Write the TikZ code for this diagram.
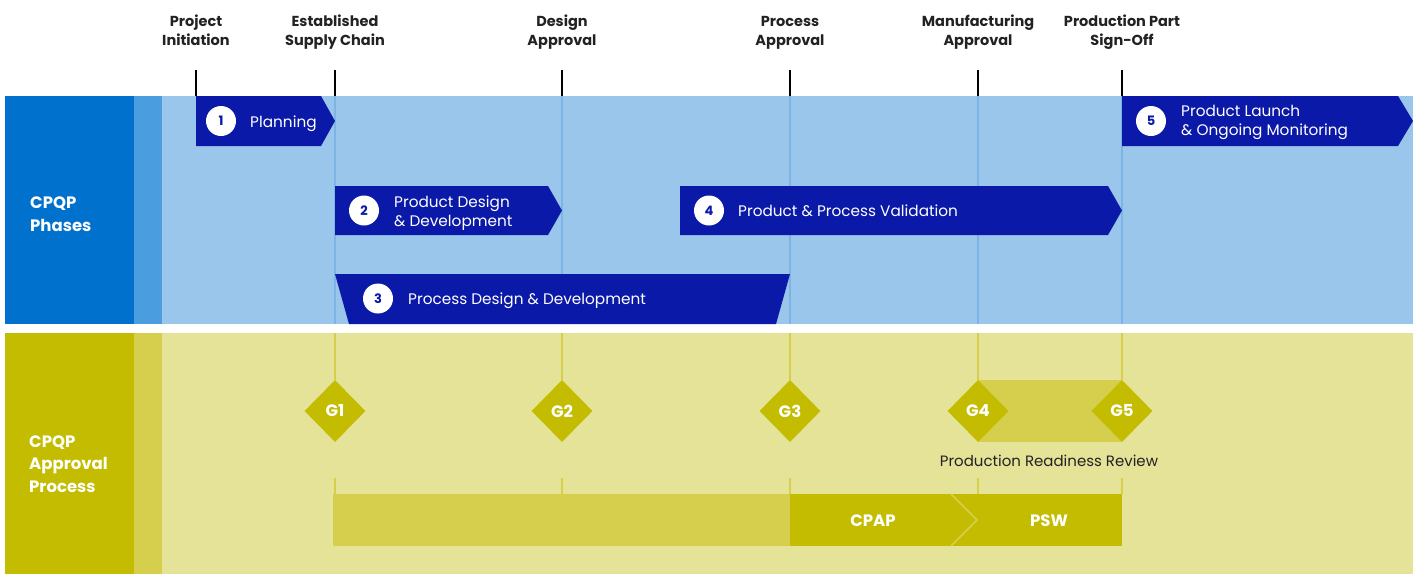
\documentclass[tikz,border=0pt]{standalone}
\usepackage{fontspec}
\setmainfont{Poppins}
\usetikzlibrary{shapes.geometric}
\definecolor{bDark}{HTML}{0072CE}
\definecolor{bMid}{HTML}{4A9EDF}
\definecolor{bLight}{HTML}{99C6EA}
\definecolor{bLine}{HTML}{7DB4E6}
\definecolor{navy}{HTML}{0A19A8}
\definecolor{yDark}{HTML}{C3BC00}
\definecolor{yMid}{HTML}{D5CF4D}
\definecolor{yLight}{HTML}{E5E398}
\definecolor{ink}{HTML}{222222}
\begin{document}
\begin{tikzpicture}[x=1pt,y=-1pt,
  head/.style={align=center,text=ink,font=\fontsize{14.5}{19}\selectfont\bfseries,inner sep=0},
  tick/.style={line width=1.6pt,draw=black},
  vline/.style={line width=2.5pt,draw=bLine},
  gline/.style={line width=2.5pt,draw=yMid},
  phase/.style={fill=navy},
  numc/.style={circle,fill=white,minimum size=30,inner sep=0,text=navy,font=\fontsize{13}{13}\selectfont\bfseries},
  ptext/.style={anchor=west,align=left,text=white,font=\fontsize{15.3}{19}\selectfont,inner sep=0},
  side/.style={anchor=west,align=left,text=white,font=\fontsize{16.5}{22.5}\selectfont\bfseries,inner sep=0},
  gate/.style={diamond,aspect=1,fill=yDark,minimum width=61,minimum height=62,inner sep=0,text=white,font=\fontsize{16.5}{16.5}\selectfont\bfseries},
  bartext/.style={text=white,font=\fontsize{16.5}{16.5}\selectfont\bfseries,inner sep=0}]
\useasboundingbox (0,0) rectangle (1416,574);
% bands
\fill[bDark] (5,96) rectangle (134,324);
\fill[bMid] (134,96) rectangle (162,324);
\fill[bLight] (162,96) rectangle (1413,324);
\fill[yDark] (5,333) rectangle (134,574);
\fill[yMid] (134,333) rectangle (162,574);
\fill[yLight] (162,333) rectangle (1413,574);
% side labels
\node[side] (sphase) at (30,215.7) {\strut CPQP\\\strut Phases};
\node[side] (sappr) at (29,465.3) {\strut CPQP\\\strut Approval\\\strut Process};
% headers
\node[head] (h1) at (196,32.2) {\strut Project\\\strut Initiation};
\node[head] (h2) at (335,32.2) {\strut Established\\\strut Supply Chain};
\node[head] (h3) at (562,32.2) {\strut Design\\\strut Approval};
\node[head] (h4) at (790,32.2) {\strut Process\\\strut Approval};
\node[head] (h5) at (978,32.2) {\strut Manufacturing\\\strut Approval};
\node[head] (h6) at (1122,32.2) {\strut Production Part\\\strut Sign-Off};
\foreach \x/\n in {196/a,335/b,562/c,790/d,978/e,1122/f}{
  \coordinate (t\n) at (\x,70);
  \coordinate (u\n) at (\x,96);
  \draw[tick] (t\n) -- (u\n);
}
\foreach \x/\n in {335/b,562/c,790/d,978/e,1122/f}{
  \coordinate (v\n) at (\x,324);
  \draw[vline] (u\n) -- (v\n);
}
% phases
\fill[phase] (196,96) -- (321,96) -- (335,121) -- (321,146) -- (196,146) -- cycle;
\node[numc] (n1) at (221,121) {1};
\node[ptext] (p1) at (250,123.7) {\strut Planning};
\fill[phase] (335,186) -- (548,186) -- (562,210.5) -- (548,235) -- (335,235) -- cycle;
\node[numc] (n2) at (364,210.5) {2};
\node[ptext] (p2) at (394,213) {\strut Product Design\\\strut\& Development};
\fill[phase] (335,274) -- (790,274) -- (776,324) -- (349,324) -- cycle;
\node[numc] (n3) at (378,298.5) {3};
\node[ptext] (p3) at (408,300.8) {\strut Process Design \& Development};
\fill[phase] (680,186) -- (1108,186) -- (1122,210.5) -- (1108,235) -- (680,235) -- cycle;
\node[numc] (n4) at (709,210.5) {4};
\node[ptext] (p4) at (738,212.5) {\strut Product \& Process Validation};
\fill[phase] (1122,96) -- (1398,96) -- (1413,121) -- (1398,146) -- (1122,146) -- cycle;
\node[numc] (n5) at (1151,121) {5};
\node[ptext] (p5) at (1181,122.4) {\strut Product Launch\\\strut\& Ongoing Monitoring};
% approval
\fill[yMid] (978,380) rectangle (1122,442);
\foreach \x/\n in {335/1,562/2,790/3,978/4,1122/5}{
  \coordinate (ga\n) at (\x,333);
  \coordinate (gb\n) at (\x,478);
  \coordinate (gc\n) at (\x,494);
}
\node[gate] (g1) at (335,411) {G1};
\node[gate] (g2) at (562,411) {G2};
\node[gate] (g3) at (790,411) {G3};
\node[gate] (g4) at (978,411) {G4};
\node[gate] (g5) at (1122,411) {G5};
\foreach \n in {1,...,5}{
  \draw[gline] (ga\n) -- (g\n.north);
  \draw[gline] (gb\n) -- (gc\n);
}
\node[text=ink,font=\fontsize{15}{15}\selectfont,inner sep=0] (prr) at (1049,461) {Production Readiness Review};
\fill[yMid] (333,494) rectangle (790,546);
\fill[yDark] (790,494) rectangle (1122,546);
\draw[line width=1.5pt,draw=yMid] (951,494) -- (977,520) -- (951,546);
\node[bartext] (cpap) at (873,521) {CPAP};
\node[bartext] (psw) at (1049,521) {PSW};
\end{tikzpicture}
\end{document}
